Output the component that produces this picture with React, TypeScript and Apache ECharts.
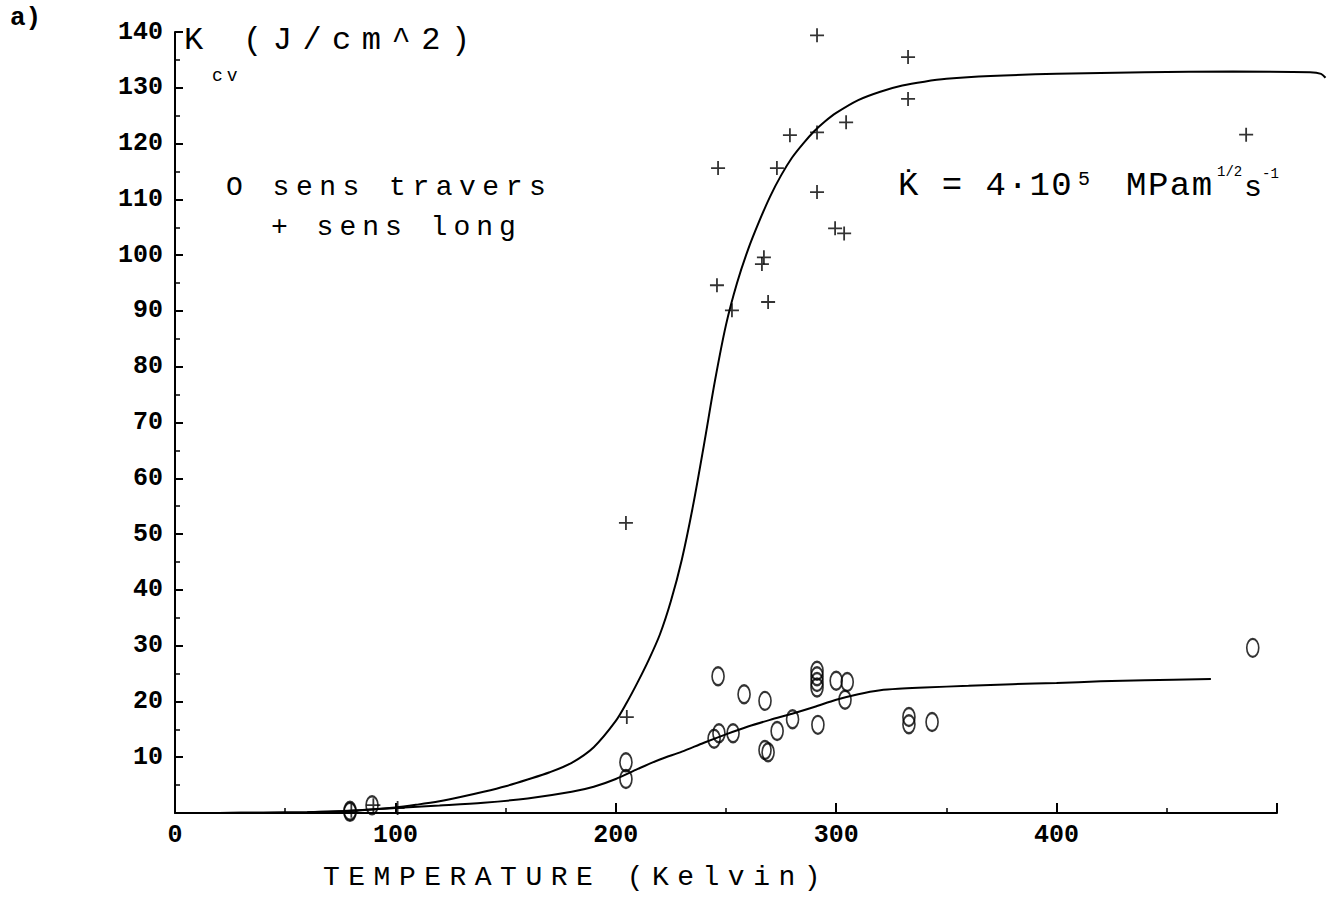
import React, { useEffect, useRef } from "react";
import * as echarts from "echarts";

// ---- data ----
const xTickLabels = [0, 100, 200, 300, 400];
const yTickLabels = [10, 20, 30, 40, 50, 60, 70, 80, 90, 100, 110, 120, 130, 140];
const xAxisEnd = 500; // drawn length of the temperature axis
const xDataEnd = 522; // the fitted curve runs a little past the axis end

// "+ sens long" points
const longT = [80, 90, 101, 204.6, 205, 245.9, 246.4, 252.7, 266.3, 267.2, 269.1, 273.1, 279, 291.3, 291.3, 291.3, 299.5, 303.6, 304.5, 332.6, 332.6, 486];
const longK = [0.4, 1.4, 0.9, 52, 17.2, 94.6, 115.6, 90.1, 98.4, 99.6, 91.6, 115.6, 121.5, 139.4, 122, 111.3, 104.8, 103.9, 123.8, 135.5, 128, 121.6];

// "O sens travers" points
const transT = [79.4, 79.4, 89.4, 204.6, 204.6, 244.6, 246.8, 246.4, 253.2, 258.2, 267.7, 267.7, 269.1, 273.2, 280.2, 291.3, 291.3, 291.3, 291.3, 291.7, 300, 305, 304, 333, 333, 343.5, 489];
const transK = [0.4, 0.2, 1.4, 9.1, 6.1, 13.3, 14.3, 24.5, 14.3, 21.3, 20.1, 11.3, 10.9, 14.7, 16.8, 25.5, 24.5, 23.5, 22.5, 15.8, 23.7, 23.5, 20.3, 17.2, 15.9, 16.3, 29.6];

// fitted curves
const upperCurveT = [0, 20, 40, 60, 80, 100, 110, 120, 130, 140, 150, 160, 170, 180, 190, 200, 205, 210, 215, 220, 225, 230, 235, 240, 245, 250, 255, 260, 265, 270, 275, 280, 285, 290, 295, 300, 310, 320, 330, 340, 350, 370, 400, 440, 480, 515, 520, 522];
const upperCurveK = [0, 0.02, 0.05, 0.15, 0.4, 1.0, 1.5, 2.1, 2.9, 3.8, 4.8, 6.0, 7.3, 9.0, 11.8, 16.5, 19.8, 23.5, 27.5, 32, 38, 45.5, 55, 66, 77.5, 87.5, 95, 101, 106, 110.5, 114.3, 117.5, 120, 122.2, 124, 125.5, 127.8, 129.3, 130.4, 131.1, 131.6, 132.1, 132.5, 132.8, 132.9, 132.8, 132.5, 131.8];

const lowerCurveT = [0, 20, 40, 60, 80, 100, 120, 140, 160, 180, 190, 200, 210, 220, 230, 240, 250, 260, 270, 280, 290, 300, 310, 320, 330, 340, 360, 380, 400, 420, 440, 470];
const lowerCurveK = [0, 0.02, 0.05, 0.15, 0.4, 0.9, 1.35, 1.85, 2.6, 3.8, 4.7, 6.1, 7.9, 9.6, 11, 12.6, 14.1, 15.5, 16.7, 17.8, 19, 20.3, 21.3, 22, 22.3, 22.5, 22.8, 23.1, 23.3, 23.6, 23.8, 24];

const zip = (a: number[], b: number[]) => a.map((v, i) => [v, b[i]]);

const MONO = "'Liberation Mono', 'DejaVu Sans Mono', monospace";
const PLUS = "path://M0,7 L14,7 M7,0 L7,14";
const OVAL = "path://M6,0 C9.3,0 12,4 12,9 C12,14 9.3,18 6,18 C2.7,18 0,14 0,9 C0,4 2.7,0 6,0 Z";

const PLOT_LEFT = 175;
const PLOT_RIGHT_PX = 1277; // pixel where T = xAxisEnd
const W = 1337;

export default function App() {
  const ref = useRef<HTMLDivElement>(null);

  useEffect(() => {
    if (!ref.current) return;
    const chart = echarts.init(ref.current, null, { renderer: "svg" });
    const pxPerUnit = (PLOT_RIGHT_PX - PLOT_LEFT) / xAxisEnd;
    const dataRight = W - (PLOT_LEFT + xDataEnd * pxPerUnit);
    const txt = (text: string, x: number, y: number, size: number, fam: string, extra: any = {}) => ({
      type: "text",
      x,
      y,
      style: {
        text,
        fontSize: size,
        fontFamily: fam,
        fill: "#000",
        textVerticalAlign: "middle",
        ...extra,
      },
    });
    const hiddenAxis = {
      show: false,
      splitLine: { show: false },
    };
    const curveStyle = {
      type: "line",
      smooth: 0.3,
      showSymbol: false,
      clip: false,
      lineStyle: { color: "#000", width: 2 },
      silent: true,
      xAxisIndex: 1,
      yAxisIndex: 1,
    };
    chart.setOption({
      animation: false,
      backgroundColor: "#fff",
      grid: [
        { left: PLOT_LEFT, right: W - PLOT_RIGHT_PX, top: 32, bottom: 99, containLabel: false },
        { left: PLOT_LEFT, right: dataRight, top: 32, bottom: 99, containLabel: false },
      ],
      xAxis: [
        {
          type: "value",
          gridIndex: 0,
          min: 0,
          max: xAxisEnd,
          interval: 100,
          axisLine: { show: true, lineStyle: { color: "#000", width: 2 } },
          axisTick: { show: true, inside: true, length: 10, lineStyle: { color: "#000", width: 2 } },
          minorTick: { show: true, splitNumber: 2, length: 5, lineStyle: { color: "#000", width: 1.5 } },
          splitLine: { show: false },
          axisLabel: {
            color: "#000",
            fontFamily: MONO,
            fontWeight: "bold",
            fontSize: 25,
            margin: 10,
            formatter: (v: number) => (xTickLabels.includes(v) ? String(v) : ""),
          },
        },
        { type: "value", gridIndex: 1, min: 0, max: xDataEnd, ...hiddenAxis },
      ],
      yAxis: [
        {
          type: "value",
          gridIndex: 0,
          min: 0,
          max: 140,
          interval: 10,
          axisLine: { show: true, lineStyle: { color: "#000", width: 2 } },
          axisTick: { show: true, inside: true, length: 8, lineStyle: { color: "#000", width: 2 } },
          minorTick: { show: true, splitNumber: 2, length: 5, lineStyle: { color: "#000", width: 1.5 } },
          splitLine: { show: false },
          axisLabel: {
            color: "#000",
            fontFamily: MONO,
            fontWeight: "bold",
            fontSize: 25,
            margin: 12,
            formatter: (v: number) => (yTickLabels.includes(v) ? String(v) : ""),
          },
        },
        { type: "value", gridIndex: 1, min: 0, max: 140, ...hiddenAxis },
      ],
      series: [
        { ...curveStyle, data: zip(upperCurveT, upperCurveK) },
        { ...curveStyle, data: zip(lowerCurveT, lowerCurveK) },
        {
          type: "scatter",
          name: "sens long",
          xAxisIndex: 1,
          yAxisIndex: 1,
          clip: false,
          data: zip(longT, longK),
          symbol: PLUS,
          symbolSize: 14,
          itemStyle: { color: "#000", borderColor: "#000", borderWidth: 1.8 },
        },
        {
          type: "scatter",
          name: "sens travers",
          xAxisIndex: 1,
          yAxisIndex: 1,
          clip: false,
          data: zip(transT, transK),
          symbol: OVAL,
          symbolSize: [12, 18],
          itemStyle: { color: "rgba(0,0,0,0)", borderColor: "#000", borderWidth: 2 },
        },
      ],
      graphic: [
        txt("a)", 10, 18, 26, MONO, { fontWeight: "bold" }),
        txt("K", 184, 40, 32, MONO),
        txt("cv", 212, 76, 18, "'Liberation Mono', lsA"),
        txt("(J/cm^2)", 243, 40, 32, "'Liberation Mono', lsB"),
        txt("O sens travers", 226, 187, 28, "'Liberation Mono', lsC"),
        txt("+ sens long", 271, 227, 28, "'Liberation Mono', lsD"),
        txt("K̇ = 4·10", 898, 186, 34, "'Liberation Mono', lsE"),
        txt("5", 1078, 179, 20, MONO),
        txt("MPam", 1126, 186, 34, "'Liberation Mono', lsE"),
        txt("1/2", 1217, 172, 14, MONO),
        txt("s", 1244, 188, 30, MONO),
        txt("-1", 1262, 174, 14, MONO),
        txt("TEMPERATURE (Kelvin)", 323, 877, 28, "'Liberation Mono', lsF"),
      ],
    });
    return () => chart.dispose();
  }, []);

  return (
    <>
      <style>{`
        text[style*="lsA"]{letter-spacing:4px}
        text[style*="lsB"]{letter-spacing:10.5px}
        text[style*="lsC"]{letter-spacing:6.5px}
        text[style*="lsD"]{letter-spacing:6px}
        text[style*="lsE"]{letter-spacing:1.5px}
        text[style*="lsF"]{letter-spacing:8.5px}
      `}</style>
      <div
        ref={ref}
        style={{ position: "absolute", left: 0, top: 0, width: 1337, height: 912, background: "#fff" }}
      />
    </>
  );
}
